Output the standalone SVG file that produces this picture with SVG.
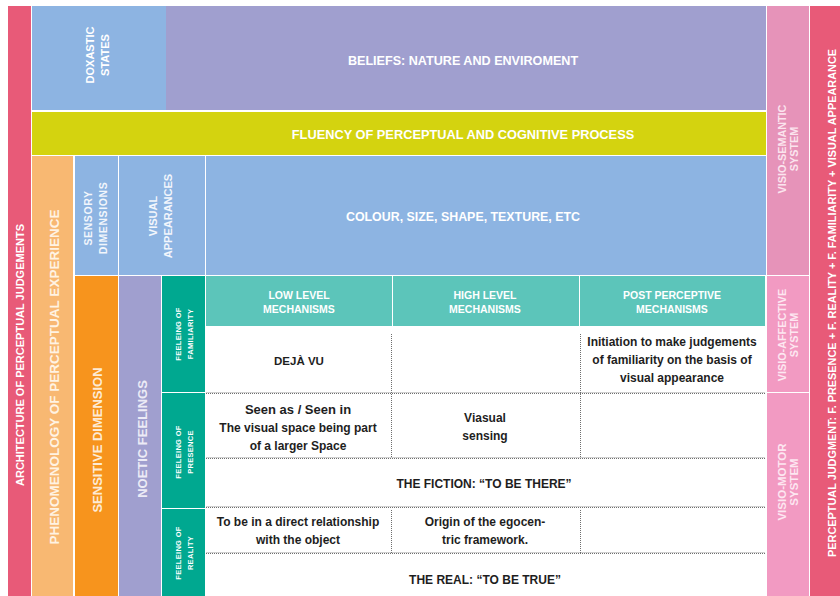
<svg xmlns="http://www.w3.org/2000/svg" width="840" height="596" viewBox="0 0 840 596">
<style>
text{font-family:"Liberation Sans",Arial,sans-serif;font-weight:bold;text-anchor:middle}
.w{fill:#ffffff}
.d{fill:#1e1e1e}
.h{font-size:10.5px}
.c{font-size:12px}
.f{font-size:7.5px;letter-spacing:0.3px}
.dot{stroke:#6e6e6e;stroke-width:1;stroke-dasharray:1 1;fill:none}
.sl{stroke:#d0d0d0;stroke-width:1;fill:none}
</style>
<rect width="840" height="596" fill="#ffffff"/>
<g id="architecture">
<rect x="8" y="6" width="23" height="590" fill="#E85A78"/>
<text class="w" font-size="11" transform="translate(24,355) rotate(-90)">ARCHITECTURE OF PERCEPTUAL JUDGEMENTS</text>
</g>
<g id="doxastic">
<rect x="32" y="6" width="134" height="104" fill="#8DB4E2"/>
<text class="w" font-size="11" transform="translate(94,55) rotate(-90)"><tspan x="0" dy="0">DOXASTIC</tspan><tspan x="0" dy="15">STATES</tspan></text>
</g>
<g id="beliefs">
<rect x="166" y="6" width="600" height="104" fill="#A09FCF"/>
<text class="w" font-size="12.6" x="463" y="65">BELIEFS: NATURE AND ENVIROMENT</text>
</g>
<g id="fluency">
<rect x="32" y="112" width="734" height="43" fill="#D4D30F"/>
<text class="w" font-size="12.8" x="463" y="139">FLUENCY OF PERCEPTUAL AND COGNITIVE PROCESS</text>
</g>
<g id="phenomenology">
<rect x="32" y="156" width="41" height="440" fill="#F8B872"/>
<text fill="#FFF3E3" font-size="13.5" transform="translate(59,377) rotate(-90)">PHENOMENOLOGY OF PERCEPTUAL EXPERIENCE</text>
</g>
<g id="sensory">
<rect x="75" y="156" width="43" height="119" fill="#8DB4E2"/>
<text fill="#F2F6FC" font-size="10.5" letter-spacing="0.6" transform="translate(92,218) rotate(-90)"><tspan x="0" dy="0">SENSORY</tspan><tspan x="0" dy="15">DIMENSIONS</tspan></text>
</g>
<g id="visual">
<rect x="119" y="156" width="86" height="119" fill="#8DB4E2"/>
<text fill="#F2F6FC" font-size="11" transform="translate(157,216) rotate(-90)"><tspan x="0" dy="0">VISUAL</tspan><tspan x="0" dy="15">APPEARANCES</tspan></text>
</g>
<g id="colour">
<rect x="206" y="156" width="560" height="119" fill="#8DB4E2"/>
<text class="w" font-size="12.4" x="463" y="221">COLOUR, SIZE, SHAPE, TEXTURE, ETC</text>
</g>
<g id="sensitive">
<rect x="75" y="276" width="43" height="320" fill="#F7941D"/>
<text fill="#FDEBD5" font-size="13" transform="translate(102,440) rotate(-90)">SENSITIVE DIMENSION</text>
</g>
<g id="noetic">
<rect x="119" y="276" width="42" height="320" fill="#A09FCF"/>
<text fill="#ECEBF6" font-size="13" transform="translate(147,439) rotate(-90)">NOETIC FEELINGS</text>
</g>
<g id="familiarity">
<rect x="162" y="276" width="43" height="116" fill="#00A890"/>
<text class="w f" transform="translate(181,334) rotate(-90)"><tspan x="0" dy="0">FEELEING OF</tspan><tspan x="0" dy="12">FAMILIARITY</tspan></text>
</g>
<g id="presence">
<rect x="162" y="393" width="43" height="115" fill="#00A890"/>
<text class="w f" transform="translate(181,452) rotate(-90)"><tspan x="0" dy="0">FEELEING OF</tspan><tspan x="0" dy="12">PRESENCE</tspan></text>
</g>
<g id="reality">
<rect x="162" y="509" width="43" height="87" fill="#00A890"/>
<text class="w f" transform="translate(181,553) rotate(-90)"><tspan x="0" dy="0">FEELEING OF</tspan><tspan x="0" dy="12">REALITY</tspan></text>
</g>
<g id="low-level">
<rect x="206" y="276" width="186" height="50" fill="#5CC5BA"/>
<text class="w h" x="299" y="299"><tspan x="299">LOW LEVEL</tspan><tspan x="299" dy="14">MECHANISMS</tspan></text>
</g>
<g id="high-level">
<rect x="393" y="276" width="186" height="50" fill="#5CC5BA"/>
<text class="w h" x="485" y="299"><tspan x="485">HIGH LEVEL</tspan><tspan x="485" dy="14">MECHANISMS</tspan></text>
</g>
<g id="post-perceptive">
<rect x="580" y="276" width="185" height="50" fill="#5CC5BA"/>
<text class="w h" x="672" y="299"><tspan x="672">POST PERCEPTIVE</tspan><tspan x="672" dy="14">MECHANISMS</tspan></text>
</g>
<g id="visio-semantic">
<rect x="767" y="6" width="42" height="269" fill="#E693B9"/>
<text fill="#FBE4EE" font-size="10.8" transform="translate(786,149) rotate(-90)"><tspan x="0" dy="0">VISIO-SEMANTIC</tspan><tspan x="0" dy="12">SYSTEM</tspan></text>
</g>
<g id="visio-affective">
<rect x="767" y="276" width="42" height="116" fill="#F29AC2"/>
<text fill="#FDE7F1" font-size="10.8" transform="translate(786,335) rotate(-90)"><tspan x="0" dy="0">VISIO-AFFECTIVE</tspan><tspan x="0" dy="12">SYSTEM</tspan></text>
</g>
<g id="visio-motor">
<rect x="767" y="393" width="42" height="203" fill="#F29AC2"/>
<text fill="#FDE7F1" font-size="11.5" transform="translate(786,482) rotate(-90)"><tspan x="0" dy="0">VISIO-MOTOR</tspan><tspan x="0" dy="12">SYSTEM</tspan></text>
</g>
<g id="perceptual-judgment">
<rect x="810" y="6" width="30" height="590" fill="#E85A78"/>
<text class="w" font-size="10.9" transform="translate(836,303) rotate(-90)">PERCEPTUAL JUDGMENT: F. PRESENCE + F. REALITY + F. FAMILIARITY + VISUAL APPEARANCE</text>
</g>
<g id="connectors">
<path class="sl" d="M206 392.5H765M206 457.5H765M206 506.5H765M206 552.5H765"/>
<path class="dot" d="M206 393.5H765M206 458.5H765M206 507.5H765M206 553.5H765"/>
<path class="dot" d="M391.5 334V458M391.5 510V553M580.5 334V458M580.5 510V553"/>
</g>
<g id="cells">
<text class="d" font-size="11.5" x="299" y="365">DEJÀ VU</text>
<text class="d c"><tspan x="672" y="346">Initiation to make judgements</tspan><tspan x="672" dy="18">of familiarity on the basis of</tspan><tspan x="672" dy="18">visual appearance</tspan></text>
<text class="d" font-size="13" x="298" y="414">Seen as / Seen in</text>
<text class="d c"><tspan x="298" y="432">The visual space being part</tspan><tspan x="298" dy="18">of a larger Space</tspan></text>
<text class="d c"><tspan x="485" y="422">Viasual</tspan><tspan x="485" dy="18">sensing</tspan></text>
<text class="d" font-size="12" x="484" y="488">THE FICTION: “TO BE THERE”</text>
<text class="d c"><tspan x="298" y="526">To be in a direct relationship</tspan><tspan x="298" dy="18">with the object</tspan></text>
<text class="d c"><tspan x="485" y="526">Origin of the egocen-</tspan><tspan x="485" dy="18">tric framework.</tspan></text>
<text class="d" font-size="12" x="485" y="584">THE REAL: “TO BE TRUE”</text>
</g>
</svg>
